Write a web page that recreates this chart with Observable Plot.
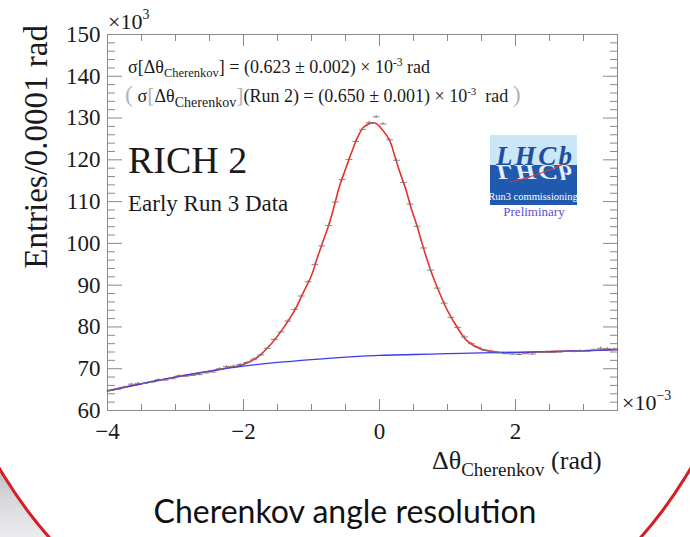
<!DOCTYPE html>
<html>
<head>
<meta charset="utf-8">
<script src="https://cdn.jsdelivr.net/npm/d3@7"></script>
<script src="https://cdn.jsdelivr.net/npm/@observablehq/plot@0.6"></script>
<style>
  html, body { margin: 0; padding: 0; background: #fff; }
  #page { position: relative; width: 690px; height: 537px; overflow: hidden; background: #fff; }
  #shade { position: absolute; left: 0; top: 468px; width: 90px; height: 69px; background: linear-gradient(#bfbfc2 0%, #d8d8da 45%, #ececee 100%); }
  #ring { position: absolute; left: -66px; top: -216px; width: 822px; height: 892px; border-radius: 50%;
          border: 3px solid #d41f26; background: #fff; box-sizing: border-box; }
  #chart { position: absolute; left: 0; top: 0; }
  #caption { position: absolute; left: 0; top: 491px; width: 690px; text-align: center;
             font-family: Lato, "Noto Sans", sans-serif; font-size: 32px; color: #111; }
</style>
</head>
<body>
<div id="page">
  <div id="shade"></div>
  <div id="ring"></div>
  <div id="chart"></div>
  <div id="caption">Cherenkov angle resolution</div>
</div>
<script>
// Histogram: entries per 0.0001 rad bin (in units of 10^3), first bin starts at -4e-3 rad
const binStart = -4.0;
const binWidth = 0.1;
const entries = [
  64.8, 65.1, 65.6, 66.3, 66.5, 66.5, 66.8, 67.4, 67.3, 67.6,
  68.3, 68.2, 68.4, 68.6, 69.0, 69.2, 70.0, 70.5, 70.6, 71.0,
  71.5, 72.3, 73.3, 74.9, 77.0, 78.8, 81.4, 84.2, 87.4, 90.8,
  94.9, 99.4, 104.3, 109.9, 115.3, 120.1, 124.4, 127.3, 128.9, 130.3,
  128.6, 124.8, 119.9, 114.6, 109.4, 104.1, 98.9, 93.6, 89.3, 85.7,
  82.3, 79.9, 77.6, 76.0, 75.1, 74.4, 74.1, 73.8, 73.6, 73.5,
  73.4, 73.6, 73.5, 73.9, 74.0, 73.9, 74.0, 74.2, 74.1, 74.3,
  74.2, 74.5, 74.9, 74.8, 74.7
];

// Signal + background fit (red)
const fitX = [-4.0, -3.5, -3.0, -2.5, -2.18, -2.04, -1.79, -1.59, -1.42, -1.25, -1.13, -1.0,
  -0.92, -0.83, -0.74, -0.66, -0.59, -0.49, -0.41, -0.31, -0.22, -0.07, 0.05, 0.15, 0.23, 0.30,
  0.39, 0.46, 0.55, 0.62, 0.70, 0.79, 0.89, 1.0, 1.14, 1.28, 1.48, 1.73, 2.02, 2.5, 3.0, 3.5];
const fitY = [64.7, 66.4, 68.0, 69.4, 70.4, 70.8, 72.8, 76.0, 79.6, 83.9, 87.9, 92.3,
  96.3, 100.5, 104.7, 109.3, 113.6, 118.2, 121.8, 125.8, 128.0, 128.8, 127.0, 124.6, 120.6, 117.0,
  112.8, 108.7, 104.3, 100.3, 96.1, 91.9, 87.9, 83.9, 80.0, 76.8, 74.8, 74.0, 73.9, 74.1, 74.3, 74.6];

// Background component (blue)
const bkgX = [-4.0, -3.5, -3.0, -2.5, -2.0, -1.5, -1.0, -0.5, 0.0, 0.5, 1.0, 1.5, 2.0, 2.5, 3.0, 3.5];
const bkgY = [64.7, 66.4, 68.0, 69.4, 70.6, 71.5, 72.2, 72.8, 73.2, 73.4, 73.6, 73.8, 73.9, 74.1, 74.3, 74.6];

// Axis ticks
const xMajor = [-4, -2, 0, 2];
const xMinor = [-3.5, -3, -2.5, -1.5, -1, -0.5, 0.5, 1, 1.5, 2.5, 3];
const yMajor = [60, 70, 80, 90, 100, 110, 120, 130, 140, 150];
const yMinor = [62, 64, 66, 68, 72, 74, 76, 78, 82, 84, 86, 88, 92, 94, 96, 98, 102, 104, 106, 108,
  112, 114, 116, 118, 122, 124, 126, 128, 132, 134, 136, 138, 142, 144, 146, 148];

const points = entries.map((v, i) => ({
  x: binStart + binWidth * (i + 0.5),
  v,
  e: Math.sqrt(v * 1000) / 1000
}));
const fit = fitX.map((x, i) => ({x, y: fitY[i]}));
const bkg = bkgX.map((x, i) => ({x, y: bkgY[i]}));

const serif = "Liberation Serif, Times New Roman, serif";
const minus = d => (d < 0 ? "\u2212" + (-d) : String(d));
const axisGray = "#8a8a8a";
const labelStyle = {fontFamily: serif, fontSize: 23, fill: "#1a1a1a"};

const chart = Plot.plot({
  width: 690,
  height: 480,
  marginLeft: 107,
  marginRight: 73,
  marginTop: 34,
  marginBottom: 70,
  x: {domain: [-4, 3.5]},
  y: {domain: [60, 150]},
  style: {fontFamily: serif, fontSize: "23px", color: "#1a1a1a", background: "transparent", overflow: "visible"},
  marks: [
    Plot.frame({stroke: axisGray}),
    // inward ticks on all four sides
    Plot.axisX({ticks: xMajor, tickSize: -11, fill: "none", label: null, stroke: axisGray}),
    Plot.axisX({ticks: xMinor, tickSize: -6, fill: "none", label: null, stroke: axisGray}),
    Plot.axisX({anchor: "top", ticks: xMajor, tickSize: -11, fill: "none", label: null, stroke: axisGray}),
    Plot.axisX({anchor: "top", ticks: xMinor, tickSize: -6, fill: "none", label: null, stroke: axisGray}),
    Plot.axisY({ticks: yMajor, tickSize: -15, fill: "none", label: null, stroke: axisGray}),
    Plot.axisY({ticks: yMinor, tickSize: -8, fill: "none", label: null, stroke: axisGray}),
    Plot.axisY({anchor: "right", ticks: yMajor, tickSize: -15, fill: "none", label: null, stroke: axisGray}),
    Plot.axisY({anchor: "right", ticks: yMinor, tickSize: -8, fill: "none", label: null, stroke: axisGray}),
    // tick labels
    Plot.axisX({ticks: xMajor, tickSize: 0, tickPadding: 12, tickFormat: minus, label: null, ...labelStyle}),
    Plot.axisY({ticks: yMajor, tickSize: 0, tickPadding: 7, label: null, ...labelStyle}),
    // fit curves
    Plot.line(fit, {x: "x", y: "y", stroke: "#e8302c", strokeWidth: 1.6, curve: "catmull-rom"}),
    Plot.line(bkg, {x: "x", y: "y", stroke: "#3b3bef", strokeWidth: 1.3, curve: "catmull-rom"}),
    // data with error bars
    Plot.link(points, {x1: d => d.x - binWidth / 2, x2: d => d.x + binWidth / 2, y1: "v", y2: "v", stroke: "#777", strokeWidth: 0.9}),
    Plot.ruleX(points, {x: "x", y1: d => d.v - d.e, y2: d => d.v + d.e, stroke: "#777", strokeWidth: 0.9})
  ]
});
document.getElementById("chart").appendChild(chart);

// Text with sub/superscripts, built from segments
const svg = d3.select(chart);
function rich(x, y, segs, attrs = {}) {
  const t = svg.append("text").attr("x", x).attr("y", y)
    .attr("font-family", serif).attr("fill", "#1a1a1a").attr("text-anchor", "start");
  for (const [k, v] of Object.entries(attrs)) t.attr(k, v);
  for (const s of segs) {
    const ts = t.append("tspan").text(s.t).attr("font-size", s.size);
    if (s.dy) ts.attr("dy", s.dy);
    if (s.fill) ts.attr("fill", s.fill);
  }
  return t;
}
const nb = "\u00a0";

// axis multipliers
rich(108, 29, [{t: "\u00d710", size: 22}, {t: "3", size: 14, dy: -10}]);
rich(622, 410, [{t: "\u00d710", size: 22}, {t: "\u22123", size: 14, dy: -10}]);

// axis titles
rich(0, 0, [{t: "Entries/0.0001 rad", size: 33}], {"text-anchor": "end", transform: "translate(47,25) rotate(-90)"});
rich(432, 469, [
  {t: "\u0394\u03b8", size: 26},
  {t: "Cherenkov", size: 19, dy: 7},
  {t: nb + "(rad)", size: 26, dy: -7}
]);

// fit results
rich(128, 73, [
  {t: "\u03c3[\u0394\u03b8", size: 18},
  {t: "Cherenkov", size: 12.5, dy: 4},
  {t: "] = (0.623 \u00b1 0.002) \u00d7 10", size: 18, dy: -4},
  {t: "-3", size: 11.5, dy: -7},
  {t: " rad", size: 18, dy: 7}
]);
rich(125, 102, [
  {t: "(", size: 24, fill: "#b5b5b5"},
  {t: nb + "\u03c3", size: 18},
  {t: "[", size: 22, fill: "#b5b5b5"},
  {t: "\u0394\u03b8", size: 18},
  {t: "Cherenkov", size: 14, dy: 5},
  {t: "]", size: 22, fill: "#b5b5b5", dy: -5},
  {t: "(Run 2) = (0.650 \u00b1 0.001) \u00d7 10", size: 18},
  {t: "-3", size: 11, dy: -7},
  {t: nb + nb + "rad" + nb, size: 18, dy: 7},
  {t: ")", size: 24, fill: "#b5b5b5"}
]);

// labels
rich(128, 173, [{t: "RICH 2", size: 38}]);
rich(128, 211, [{t: "Early Run 3 Data", size: 23}]);

// LHCb badge
const logo = svg.append("g");
logo.append("rect").attr("x", 490).attr("y", 135).attr("width", 87).attr("height", 31).attr("fill", "#c9e7f6");
logo.append("rect").attr("x", 490).attr("y", 165).attr("width", 87).attr("height", 40).attr("fill", "#2059ad");
logo.append("text").attr("x", 496).attr("y", 165).attr("font-family", serif).attr("font-style", "italic")
  .attr("font-weight", "bold").attr("text-anchor", "start").attr("font-size", 27).attr("fill", "#1d4f9e")
  .attr("textLength", 76).text("LHCb");
logo.append("text").attr("transform", "translate(0,297) scale(1,-0.8)").attr("x", 496).attr("y", 165 / 0.8 * 0.8)
  .attr("text-anchor", "start").attr("font-family", serif).attr("font-style", "italic").attr("font-weight", "bold")
  .attr("font-size", 27).attr("fill", "#e4eef8").attr("textLength", 76).text("LHCb");
logo.append("path").attr("d", "M510,182 Q535,177 566,163").attr("stroke", "#d2403a").attr("stroke-width", 1.2).attr("fill", "none");
logo.append("text").attr("x", 533).attr("y", 200).attr("text-anchor", "middle").attr("font-family", serif)
  .attr("font-size", 10.5).attr("fill", "#ffffff").text("Run3 commissioning");
logo.append("text").attr("x", 534).attr("y", 216).attr("text-anchor", "middle").attr("font-family", serif)
  .attr("font-size", 13).attr("fill", "#5b4fd6").text("Preliminary");
</script>
</body>
</html>
